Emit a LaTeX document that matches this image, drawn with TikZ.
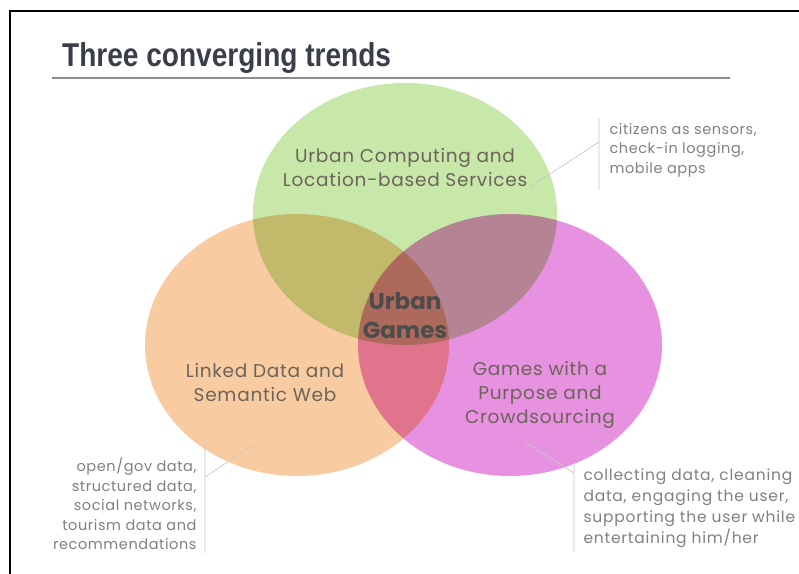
\documentclass[tikz,border=0pt]{standalone}
\usepackage{fontspec}
\setmainfont{Poppins}
\newfontfamily\titlefont[FakeStretch=0.85]{Liberation Sans}
\newfontfamily\setfont[LetterSpace=4]{Poppins}
\newfontfamily\notefont[LetterSpace=4]{Poppins}
\newfontfamily\widenotefont[LetterSpace=5]{Poppins}
\usetikzlibrary{shapes.geometric}

\definecolor{lbsgreen}{RGB}{200,232,170}
\definecolor{ldorange}{RGB}{248,204,160}
\definecolor{gwapink}{RGB}{230,146,224}
\definecolor{settext}{RGB}{110,98,90}
\definecolor{notetext}{RGB}{128,128,128}
\definecolor{titletext}{RGB}{58,62,74}

\begin{document}
\begin{tikzpicture}[x=1pt, y=-1pt,
		set/.style={ellipse, minimum width=304pt, minimum height=262pt, inner sep=0pt},
		settitle/.style={align=center, text=settext, font=\setfont\fontsize{18.5}{24}\selectfont},
		note/.style={text=notetext, font=\notefont\fontsize{14.5}{19.5}\selectfont},
		bar/.style={draw=black!22, line width=0.7pt}]
		\useasboundingbox (0,0) rectangle (799,573);
		\clip (0,0) rectangle (799,573);
		\draw[line width=2pt] (10,11) rectangle (820,590);

		\path (62,66) node[anchor=base west, text=titletext, inner sep=0pt] (title)
		{\titlefont\bfseries\fontsize{33}{33}\selectfont Three converging trends};
		\draw[black!45, line width=1.5pt] (52,78) -- (730,78);

		% the three sets
		\begin{scope}[blend group=multiply]
		\path (405,214) node[set, fill=lbsgreen] (lbs) {}
		(297,345) node[set, fill=ldorange] (ld) {}
		(510,345) node[set, fill=gwapink] (gwap) {};
		\end{scope}

		\path (405,168) node[settitle] (lbstext) {Urban Computing and\\Location-based Services}
		(265,383) node[settitle] (ldtext) {Linked Data and\\Semantic Web}
		(540,395) node[settitle] (gwaptext) {Games with a\\Purpose and\\Crowdsourcing}
		(405,316) node[align=center, text=black!70, font=\bfseries\fontsize{23}{29}\selectfont] (games) {Urban\\Games};

		% notes
		\path (606,150) node[note, anchor=west, align=left] (lbsnote)
		{citizens as sensors,\\check-in logging,\\mobile apps}
		(200,504) node[note, anchor=east, align=right] (ldnote)
		{open/gov data,\\structured data,\\social networks,\\tourism data and\\recommendations}
		(580,508) node[note, anchor=west, align=left, font=\widenotefont\fontsize{15.5}{21}\selectfont] (gwapnote)
		{collecting data, cleaning\\data, engaging the user,\\supporting the user while\\entertaining him/her};

		\coordinate (lbsbar1) at (599,118);
		\coordinate (lbsbar2) at (599,190);
		\coordinate (lbsbar) at (599,142);
		\coordinate (lbsin) at (530,187);
		\coordinate (ldbar1) at (205,440);
		\coordinate (ldbar2) at (205,553);
		\coordinate (ldbar) at (205,477);
		\coordinate (ldin) at (253,445);
		\coordinate (gwapbar1) at (574,463);
		\coordinate (gwapbar2) at (574,552);
		\coordinate (gwapbar) at (574,473);
		\coordinate (gwapin) at (525,442);

		\draw[bar] (lbsbar1) -- (lbsbar2)
		(lbsin) -- (lbsbar)
		(ldbar1) -- (ldbar2)
		(ldin) -- (ldbar)
		(gwapbar1) -- (gwapbar2)
		(gwapin) -- (gwapbar);
	\end{tikzpicture}
\end{document}
